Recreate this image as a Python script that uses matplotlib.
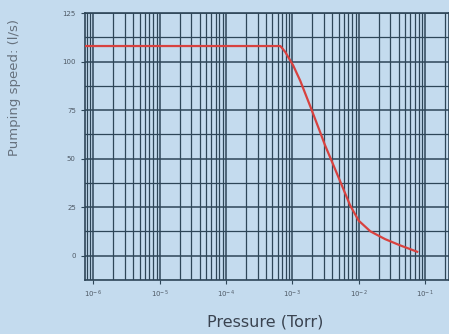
import numpy as np
import matplotlib
matplotlib.use("Agg")
from matplotlib import pyplot as plt
from matplotlib.ticker import FixedLocator, LogLocator, NullFormatter

# pressure (Torr) and pumping speed (l/s)
pressure = [7.5e-7, 1e-5, 1e-4, 5e-4, 6.6e-4, 7.8e-4, 1.03e-3, 1.32e-3, 1.86e-3,
            2.6e-3, 3.1e-3, 4e-3, 5.3e-3, 7.4e-3, 1e-2, 1.5e-2, 2.5e-2, 4.2e-2, 7.6e-2]
speed = [108, 108, 108, 108, 108, 105, 98, 90, 77,
         64, 57, 48, 38, 26, 18, 12.5, 8.5, 5.3, 2]

x_ticks = [1e-6, 1e-5, 1e-4, 1e-3, 1e-2, 1e-1]
x_labels = [r"$10^{-6}$", r"$10^{-5}$", r"$10^{-4}$", r"$10^{-3}$", r"$10^{-2}$", r"$10^{-1}$"]
y_ticks = [0, 25, 50, 75, 100, 125]

BG = "#c4dbee"
GRID = "#2e4658"
TEXT = "#4f5a66"

fig = plt.figure(figsize=(4.49, 3.34), dpi=100, facecolor=BG)
ax = fig.add_axes([0.189, 0.162, 0.811, 0.799], facecolor=BG)

ax.set_xscale("log")
ax.set_xlim(7.5e-7, 10 ** -0.64)
ax.set_ylim(-12.5, 125)

ax.xaxis.set_major_locator(FixedLocator(x_ticks))
ax.set_xticklabels(x_labels)
ax.xaxis.set_minor_locator(LogLocator(base=10, subs=np.arange(2, 10)))
ax.xaxis.set_minor_formatter(NullFormatter())
ax.set_yticks(y_ticks)
ax.yaxis.set_minor_locator(FixedLocator(np.arange(-12.5, 125, 12.5)))

ax.grid(which="major", color=GRID, lw=1.1)
ax.grid(which="minor", color=GRID, lw=0.9)

ax.plot(pressure, speed, color="#d8423f", lw=1.6, zorder=5)

ax.tick_params(axis="both", which="both", length=3, color=GRID, labelcolor=TEXT, labelsize=5)
ax.tick_params(axis="x", which="minor", length=0)
ax.tick_params(axis="y", which="minor", length=0)
for s in ax.spines.values():
    s.set_color(GRID)
    s.set_linewidth(1.2)

ax.set_xlabel("Pressure (Torr)", fontsize=11.5, color="#3a4350", va="center", ha="center")
ax.xaxis.set_label_coords(0.495, -0.157)
ax.set_ylabel("Pumping speed: (l/s)", fontsize=9.5, color="#66717d", va="center", ha="center")
ax.yaxis.set_label_coords(-0.192, 0.72)

fig.savefig("out.png", dpi=100, facecolor=BG)
